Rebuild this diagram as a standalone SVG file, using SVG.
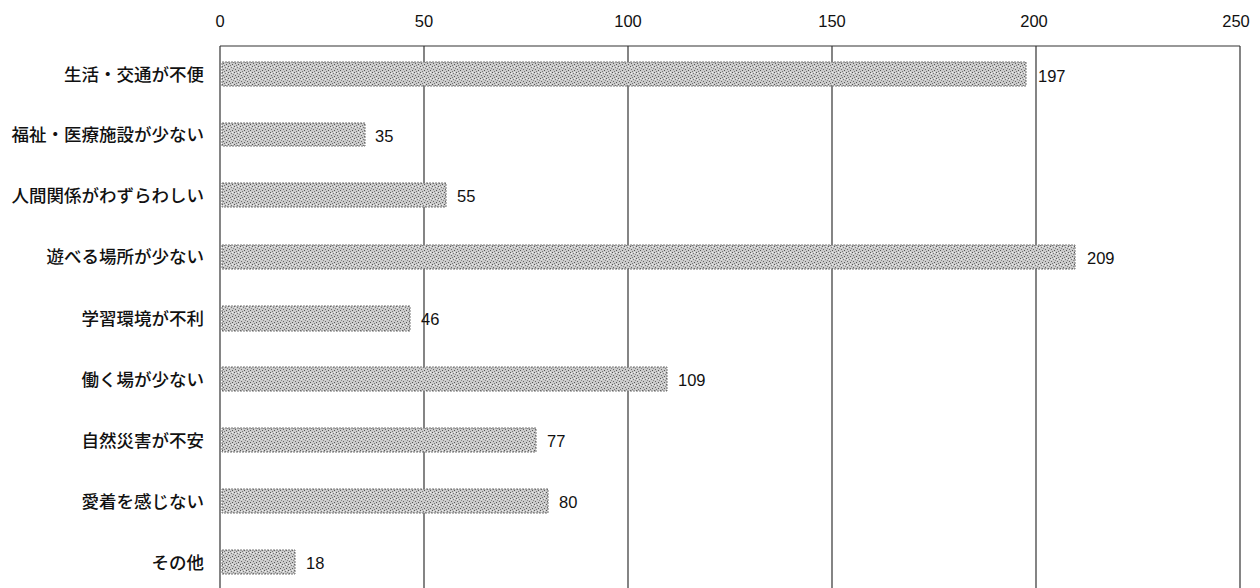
<svg xmlns="http://www.w3.org/2000/svg" width="1260" height="588" viewBox="0 0 1260 588">
  <defs>
    <pattern id="stipple" width="6" height="6" patternUnits="userSpaceOnUse">
      <rect width="6" height="6" fill="#cbcbcb"/>
      <rect x="0" y="0" width="1" height="1" fill="#555"/>
      <rect x="3" y="1" width="1" height="1" fill="#777"/>
      <rect x="1" y="3" width="1" height="1" fill="#666"/>
      <rect x="4" y="4" width="1" height="1" fill="#555"/>
      <rect x="5" y="2" width="1" height="1" fill="#888"/>
      <rect x="2" y="5" width="1" height="1" fill="#777"/>
      <rect x="4" y="0" width="1" height="1" fill="#eee"/>
      <rect x="1" y="1" width="1" height="1" fill="#eee"/>
    </pattern>
  </defs>
  <style>
    .grid { stroke: #333; stroke-width: 1.2; fill: none; }
    .bar { fill: url(#stipple); stroke: #777; stroke-width: 1; stroke-dasharray: 2 1; }
    .cat { font-family: "Noto Sans CJK JP", "Noto Sans", sans-serif; font-size: 17.5px; font-weight: 500; fill: #111; text-anchor: end; }
    .tick { font-family: "Liberation Sans", Arial, sans-serif; font-size: 16.5px; fill: #111; text-anchor: middle; }
    .val { font-family: "Liberation Sans", Arial, sans-serif; font-size: 16.5px; fill: #111; }
  </style>
  <rect width="1260" height="588" fill="#fff"/>

  <g id="axis">
    <text class="tick" x="220" y="27">0</text>
    <text class="tick" x="424" y="27">50</text>
    <text class="tick" x="628" y="27">100</text>
    <text class="tick" x="832" y="27">150</text>
    <text class="tick" x="1034" y="27">200</text>
    <text class="tick" x="1236" y="27">250</text>
  </g>

  <g id="gridlines">
    <line class="grid" x1="220" y1="46" x2="1240" y2="46"/>
    <line class="grid" x1="220" y1="46" x2="220" y2="588"/>
    <line class="grid" x1="424" y1="46" x2="424" y2="588"/>
    <line class="grid" x1="628" y1="46" x2="628" y2="588"/>
    <line class="grid" x1="832" y1="46" x2="832" y2="588"/>
    <line class="grid" x1="1036" y1="46" x2="1036" y2="588"/>
    <line class="grid" x1="1240" y1="46" x2="1240" y2="588"/>
  </g>

  <g id="row1">
    <text class="cat" x="204" y="81">生活・交通が不便</text>
    <rect class="bar" x="222" y="62" width="804" height="24"/>
    <text class="val" x="1038" y="82">197</text>
  </g>
  <g id="row2">
    <text class="cat" x="204" y="141">福祉・医療施設が少ない</text>
    <rect class="bar" x="222" y="123" width="143" height="23"/>
    <text class="val" x="375" y="142">35</text>
  </g>
  <g id="row3">
    <text class="cat" x="204" y="202">人間関係がわずらわしい</text>
    <rect class="bar" x="222" y="183" width="224" height="24"/>
    <text class="val" x="457" y="202">55</text>
  </g>
  <g id="row4">
    <text class="cat" x="204" y="263">遊べる場所が少ない</text>
    <rect class="bar" x="222" y="245" width="853" height="24"/>
    <text class="val" x="1087" y="264">209</text>
  </g>
  <g id="row5">
    <text class="cat" x="204" y="325">学習環境が不利</text>
    <rect class="bar" x="222" y="306" width="188" height="25"/>
    <text class="val" x="421" y="325">46</text>
  </g>
  <g id="row6">
    <text class="cat" x="204" y="386">働く場が少ない</text>
    <rect class="bar" x="222" y="367" width="445" height="24"/>
    <text class="val" x="678" y="386">109</text>
  </g>
  <g id="row7">
    <text class="cat" x="204" y="447">自然災害が不安</text>
    <rect class="bar" x="222" y="428" width="314" height="24"/>
    <text class="val" x="547" y="447">77</text>
  </g>
  <g id="row8">
    <text class="cat" x="204" y="508">愛着を感じない</text>
    <rect class="bar" x="222" y="489" width="326" height="24"/>
    <text class="val" x="559" y="508">80</text>
  </g>
  <g id="row9">
    <text class="cat" x="204" y="569">その他</text>
    <rect class="bar" x="222" y="550" width="73" height="24"/>
    <text class="val" x="306" y="569">18</text>
  </g>
</svg>
